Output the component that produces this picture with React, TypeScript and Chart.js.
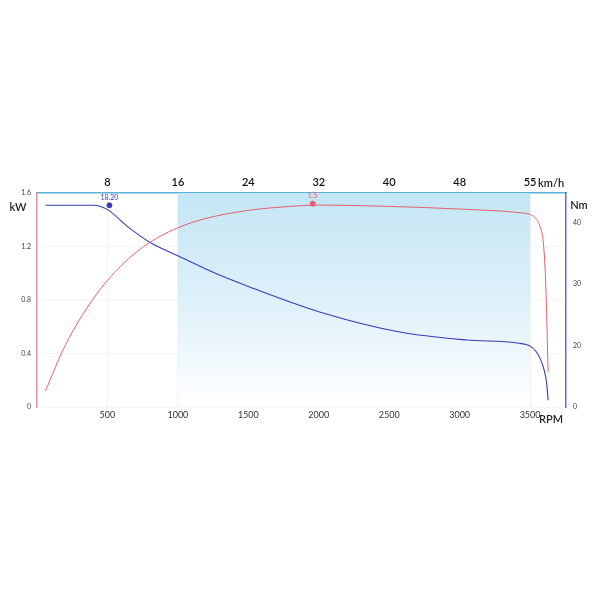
import React, { useEffect, useRef } from "react";
import { Chart, registerables } from "chart.js";

Chart.register(...registerables);

// Power curve (kW, left axis)
const powerRpm = [60, 200, 400, 600, 800, 1000, 1200, 1500, 1800, 2000, 2500, 3000, 3450, 3500, 3540, 3570, 3595, 3610, 3620, 3628];
const powerKw = [0.12, 0.46, 0.81, 1.06, 1.23, 1.34, 1.41, 1.47, 1.50, 1.51, 1.50, 1.48, 1.45, 1.44, 1.41, 1.35, 1.22, 0.95, 0.6, 0.26];

// Torque curve (Nm, right axis)
const torqueRpm = [60, 200, 400, 500, 650, 800, 1000, 1250, 1500, 2000, 2575, 3050, 3410, 3500, 3540, 3575, 3600, 3618, 3628];
const torqueNm = [42.8, 42.8, 42.8, 42.1, 39.2, 36.8, 34.6, 31.9, 29.6, 25.5, 22.2, 20.9, 20.4, 19.9, 19.1, 17.7, 16.0, 13.8, 11.1];

// Marked points
const torqueMarkRpm = [514];
const torqueMarkNm = [42.8];
const torqueMarkLabel = ["18.20"];
const powerMarkRpm = [1957];
const powerMarkKw = [1.52];
const powerMarkLabel = ["1.5"];

// Axes
const rpmTicks = [500, 1000, 1500, 2000, 2500, 3000, 3500];
const rpmTickLabels = ["500", "1000", "1500", "2000", "2500", "3000", "3500"];
const speedLabels = ["8", "16", "24", "32", "40", "48", "55"];
const kwTicks = [0, 0.4, 0.8, 1.2, 1.6];
const kwTickLabels = ["0", "0.4", "0.8", "1.2", "1.6"];
const nmTicks = [10, 20, 30, 40];
const nmTickLabels = ["0", "20", "30", "40"];
const bandRange = [1000, 3500];

const RED = "#e6606c";
const BLUE = "#3b3bb6";
const FONT = "Lato, 'Open Sans', sans-serif";

export default function App() {
  const ref = useRef<HTMLCanvasElement | null>(null);

  useEffect(() => {
    const canvas = ref.current;
    if (!canvas) return;

    const deco = {
      id: "deco",
      beforeDatasetsDraw(chart: any) {
        const { ctx, chartArea, scales } = chart;
        const x0 = scales.x.getPixelForValue(bandRange[0]);
        const x1 = scales.x.getPixelForValue(bandRange[1]);
        const g = ctx.createLinearGradient(0, chartArea.top, 0, chartArea.bottom);
        g.addColorStop(0, "rgba(196,230,245,1)");
        g.addColorStop(0.5, "rgba(222,240,250,1)");
        g.addColorStop(1, "rgba(255,255,255,1)");
        ctx.save();
        ctx.fillStyle = g;
        ctx.fillRect(x0, chartArea.top, x1 - x0, chartArea.bottom - chartArea.top);
        ctx.restore();
      },
      afterDraw(chart: any) {
        const { ctx, scales } = chart;
        ctx.save();
        ctx.fillStyle = "#222";
        ctx.font = `600 11px ${FONT}`;
        ctx.textBaseline = "middle";
        ctx.textAlign = "center";
        ctx.fillText("kW", 18, 207);
        ctx.fillText("Nm", 579, 205);
        ctx.fillText("RPM", 551, 419);
        ctx.textAlign = "left";
        ctx.fillText("km/h", 538, 183);
        // point labels
        ctx.font = `7px ${FONT}`;
        ctx.textAlign = "center";
        ctx.fillStyle = BLUE;
        torqueMarkLabel.forEach((t, i) => {
          const px = scales.x.getPixelForValue(torqueMarkRpm[i]);
          const py = scales.yR.getPixelForValue(torqueMarkNm[i]);
          ctx.fillText(t, px, py - 8);
        });
        ctx.fillStyle = RED;
        powerMarkLabel.forEach((t, i) => {
          const px = scales.x.getPixelForValue(powerMarkRpm[i]);
          const py = scales.y.getPixelForValue(powerMarkKw[i]);
          ctx.fillText(t, px, py - 8);
        });
        ctx.restore();
      },
    };

    const chart = new Chart(canvas, {
      type: "line",
      data: {
        datasets: [
          {
            data: powerRpm.map((x, i) => ({ x, y: powerKw[i] })),
            borderColor: RED,
            borderWidth: 1,
            pointRadius: 0,
            cubicInterpolationMode: "monotone",
            xAxisID: "x",
            yAxisID: "y",
          },
          {
            data: torqueRpm.map((x, i) => ({ x, y: torqueNm[i] })),
            borderColor: BLUE,
            borderWidth: 1.1,
            pointRadius: 0,
            cubicInterpolationMode: "monotone",
            xAxisID: "x",
            yAxisID: "yR",
          },
          {
            data: powerMarkRpm.map((x, i) => ({ x, y: powerMarkKw[i] })),
            showLine: false,
            pointRadius: 2.5,
            pointBackgroundColor: RED,
            pointBorderColor: RED,
            xAxisID: "x",
            yAxisID: "y",
          },
          {
            data: torqueMarkRpm.map((x, i) => ({ x, y: torqueMarkNm[i] })),
            showLine: false,
            pointRadius: 2.5,
            pointBackgroundColor: BLUE,
            pointBorderColor: BLUE,
            xAxisID: "x",
            yAxisID: "yR",
          },
        ],
      } as any,
      options: {
        animation: false,
        responsive: false,
        layout: { padding: { top: 168, bottom: 168, left: 0, right: 0 } },
        plugins: { legend: { display: false }, tooltip: { enabled: false } },
        scales: {
          x: {
            type: "linear",
            position: "bottom",
            min: 0,
            max: 3755,
            afterBuildTicks: (s: any) => {
              s.ticks = rpmTicks.map((v) => ({ value: v }));
            },
            afterFit: (s: any) => {
              s.height = 25;
            },
            ticks: {
              color: "#333",
              font: { family: FONT, size: 9 },
              padding: 3,
              maxRotation: 0,
              autoSkip: false,
              callback: (v: any) => {
                const i = rpmTicks.indexOf(Number(v));
                return i >= 0 ? rpmTickLabels[i] : "";
              },
            },
            grid: { color: "rgba(0,0,0,0.05)", drawTicks: false },
            border: { display: false },
          },
          xTop: {
            type: "linear",
            position: "top",
            min: 0,
            max: 3755,
            afterBuildTicks: (s: any) => {
              s.ticks = rpmTicks.map((v) => ({ value: v }));
            },
            afterFit: (s: any) => {
              s.height = 25;
            },
            ticks: {
              color: "#111",
              font: { family: FONT, size: 11, weight: "600" },
              padding: 4,
              maxRotation: 0,
              autoSkip: false,
              callback: (v: any) => {
                const i = rpmTicks.indexOf(Number(v));
                return i >= 0 ? speedLabels[i] : "";
              },
            },
            grid: { display: false, drawTicks: false },
            border: { display: true, color: "#5ab3dc", width: 1.5 },
          },
          y: {
            type: "linear",
            position: "left",
            min: 0,
            max: 1.6,
            afterBuildTicks: (s: any) => {
              s.ticks = kwTicks.map((v) => ({ value: v }));
            },
            afterFit: (s: any) => {
              s.width = 37;
            },
            ticks: {
              color: "#444",
              font: { family: FONT, size: 7 },
              padding: 6,
              callback: (v: any) => {
                const i = kwTicks.indexOf(Number(v));
                return i >= 0 ? kwTickLabels[i] : "";
              },
            },
            grid: { color: "rgba(0,0,0,0.04)", drawTicks: false },
            border: { display: true, color: "#e0909a", width: 1.5 },
          },
          yR: {
            type: "linear",
            position: "right",
            min: 10,
            max: 44.8,
            afterBuildTicks: (s: any) => {
              s.ticks = nmTicks.map((v) => ({ value: v }));
            },
            afterFit: (s: any) => {
              s.width = 34;
            },
            ticks: {
              color: "#444",
              font: { family: FONT, size: 7 },
              padding: 7,
              callback: (v: any) => {
                const i = nmTicks.indexOf(Number(v));
                return i >= 0 ? nmTickLabels[i] : "";
              },
            },
            grid: { display: false, drawTicks: false },
            border: { display: true, color: "#6a6ac4", width: 1.5 },
          },
        },
      } as any,
      plugins: [deco],
    });

    return () => chart.destroy();
  }, []);

  return (
    <div style={{ position: "fixed", left: 0, top: 0, width: 600, height: 600, background: "#fff" }}>
      <canvas ref={ref} width={600} height={600} />
    </div>
  );
}
